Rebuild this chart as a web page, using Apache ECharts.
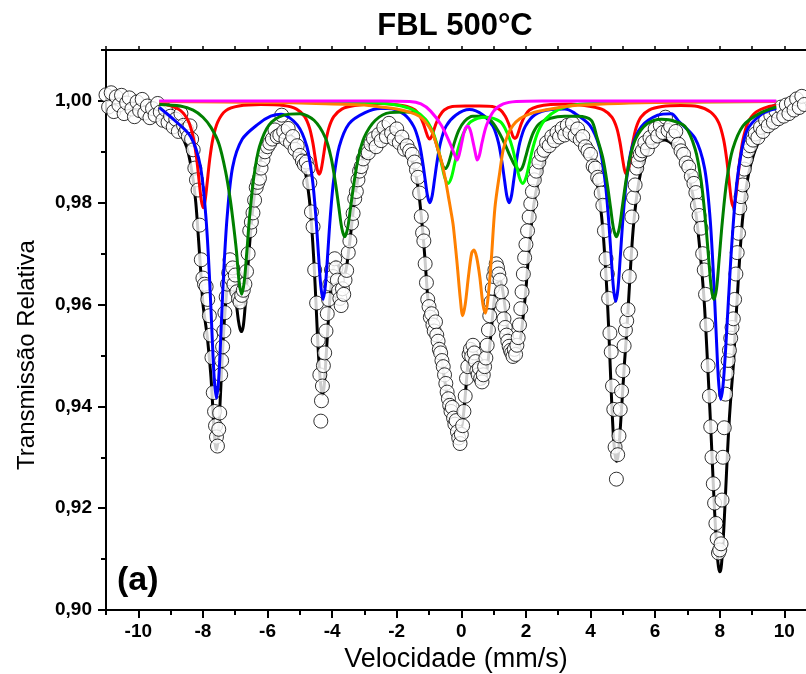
<!DOCTYPE html>
<html>
<head>
<meta charset="utf-8">
<script src="https://cdn.jsdelivr.net/npm/echarts@6/dist/echarts.min.js"></script>
<style>html,body{margin:0;padding:0;background:#fff}#c{width:806px;height:674px}</style>
</head>
<body>
<div id="c"></div>
<script>
// ---------- tick values ----------
const xMajor = [-10,-8,-6,-4,-2,0,2,4,6,8,10];
const xMinor = [-11,-9,-7,-5,-3,-1,1,3,5,7,9];
const xTop = [-11,-10,-9,-8,-7,-6,-5,-4,-3,-2,-1,0,1,2,3,4,5,6,7,8,9,10];
const yMajor = [0.90,0.92,0.94,0.96,0.98,1.00];
const yMinor = [0.91,0.93,0.95,0.97,0.99,1.01];

// ---------- measured spectrum (open circles) ----------
const observed = [
[-11.00,1.0012],[-10.92,0.9988],[-10.84,1.0016],[-10.76,0.9979],[-10.68,1.0008],[-10.60,0.9992],[-10.52,1.0011],[-10.44,0.9975],[-10.36,0.9996],[-10.28,1.0006],[-10.20,0.9984],[-10.12,0.9969],[-10.04,0.9998],[-9.96,0.9981],[-9.88,1.0003],[-9.80,0.9976],[-9.72,0.9990],[-9.64,0.9967],[-9.56,0.9985],[-9.48,0.9972],[-9.40,0.9995],[-9.32,0.9978],[-9.24,0.9962],[-9.16,0.9983],[-9.08,0.9958],[-9.00,0.9970],[-8.92,0.9949],[-8.84,0.9964],[-8.76,0.9940],[-8.68,0.9975],[-8.60,0.9952],[-8.55,0.9938],[-8.50,0.9944],[-8.45,0.9930],
[-8.40,0.9951],[-8.35,0.9925],[-8.30,0.9904],[-8.25,0.9868],[-8.20,0.9845],[-8.15,0.9825],[-8.10,0.9756],[-8.05,0.9688],[-8.00,0.9652],[-7.95,0.9640],[-7.90,0.9635],[-7.85,0.9610],[-7.80,0.9578],[-7.76,0.9540],[-7.72,0.9496],[-7.68,0.9427],[-7.64,0.9390],[-7.61,0.9362],[-7.58,0.9340],[-7.55,0.9322],[-7.51,0.9355],[-7.48,0.9387],[-7.45,0.9462],[-7.42,0.9490],[-7.39,0.9517],[-7.35,0.9548],[-7.32,0.9584],[-7.28,0.9615],[-7.24,0.9640],[-7.20,0.9662],[-7.16,0.9688],[-7.12,0.9650],[-7.08,0.9672],[-7.04,0.9640],[-7.00,0.9658],[-6.95,0.9625],[-6.90,0.9612],[-6.85,0.9605],[-6.80,0.9618],[-6.75,0.9628],[-6.70,0.9640],[-6.65,0.9665],
[-6.60,0.9700],[-6.55,0.9745],[-6.50,0.9762],[-6.45,0.9780],[-6.40,0.9805],[-6.35,0.9830],[-6.30,0.9840],[-6.25,0.9848],[-6.20,0.9868],[-6.14,0.9885],[-6.08,0.9900],[-6.00,0.9910],[-5.93,0.9917],[-5.85,0.9925],[-5.77,0.9943],[-5.70,0.9930],[-5.62,0.9933],[-5.56,0.9972],[-5.50,0.9940],[-5.43,0.9925],[-5.36,0.9946],[-5.29,0.9918],[-5.22,0.9930],[-5.15,0.9905],[-5.08,0.9912],[-5.00,0.9893],
[-4.92,0.9882],[-4.86,0.9875],[-4.80,0.9880],[-4.74,0.9868],[-4.69,0.9839],[-4.64,0.9782],[-4.59,0.9753],[-4.54,0.9668],[-4.48,0.9603],[-4.43,0.9530],[-4.38,0.9462],[-4.35,0.9371],[-4.33,0.9411],[-4.30,0.9440],[-4.27,0.9480],[-4.23,0.9505],[-4.19,0.9548],[-4.15,0.9582],[-4.11,0.9610],[-4.07,0.9640],[-4.02,0.9668],[-3.97,0.9655],[-3.92,0.9690],[-3.88,0.9672],[-3.84,0.9648],[-3.80,0.9627],[-3.76,0.9612],[-3.72,0.9598],[-3.68,0.9631],[-3.64,0.9620],[-3.60,0.9648],[-3.55,0.9667],[-3.50,0.9702],[-3.45,0.9725],[-3.40,0.9760],[-3.35,0.9779],[-3.30,0.9808],[-3.25,0.9822],[-3.20,0.9845],[-3.15,0.9862],[-3.10,0.9871],[-3.04,0.9886],[-2.96,0.9901],[-2.88,0.9898],[-2.80,0.9915],[-2.72,0.9926],[-2.64,0.9910],[-2.56,0.9934],[-2.48,0.9922],[-2.40,0.9948],[-2.32,0.9930],[-2.24,0.9956],[-2.16,0.9937],[-2.08,0.9925],[-2.00,0.9945],[-1.92,0.9918],[-1.84,0.9929],[-1.76,0.9905],[-1.68,0.9912],
[-1.60,0.9902],[-1.52,0.9895],[-1.45,0.9880],[-1.39,0.9865],[-1.34,0.9850],[-1.29,0.9819],[-1.24,0.9773],[-1.20,0.9741],[-1.16,0.9725],[-1.12,0.9680],[-1.08,0.9643],[-1.04,0.9610],[-1.00,0.9596],[-0.96,0.9575],[-0.92,0.9582],[-0.88,0.9560],[-0.84,0.9548],[-0.80,0.9566],[-0.76,0.9540],[-0.72,0.9528],[-0.68,0.9512],[-0.64,0.9505],[-0.60,0.9490],[-0.56,0.9478],[-0.52,0.9462],[-0.48,0.9445],[-0.44,0.9428],[-0.40,0.9415],[-0.36,0.9402],[-0.32,0.9390],[-0.28,0.9398],[-0.24,0.9377],[-0.20,0.9365],[-0.16,0.9372],[-0.12,0.9350],[-0.08,0.9338],[-0.04,0.9327],[0.00,0.9345],[0.04,0.9362],[0.08,0.9390],[0.12,0.9420],[0.16,0.9455],[0.20,0.9478],[0.24,0.9502],[0.28,0.9512],[0.32,0.9498],[0.36,0.9520],[0.40,0.9505],[0.44,0.9488],[0.48,0.9470],[0.52,0.9462],[0.56,0.9475],[0.60,0.9455],[0.64,0.9448],[0.68,0.9462],[0.72,0.9478],[0.76,0.9495],[0.80,0.9520],[0.84,0.9550],[0.88,0.9578],[0.92,0.9605],[0.96,0.9632],[1.00,0.9655],[1.04,0.9668],[1.08,0.9680],[1.12,0.9672],[1.16,0.9660],[1.20,0.9648],[1.24,0.9625],[1.28,0.9598],[1.32,0.9572],[1.36,0.9555],[1.40,0.9540],[1.44,0.9528],[1.48,0.9518],[1.52,0.9510],[1.56,0.9505],[1.60,0.9498],[1.64,0.9512],[1.68,0.9502],[1.72,0.9520],[1.76,0.9535],[1.80,0.9560],[1.84,0.9592],[1.88,0.9625],[1.92,0.9660],[1.96,0.9692],[2.00,0.9718],[2.05,0.9745],[2.10,0.9772],[2.15,0.9798],[2.20,0.9822],[2.26,0.9845],[2.32,0.9862],[2.40,0.9880],[2.48,0.9895],[2.56,0.9903],[2.64,0.9918],[2.72,0.9912],[2.80,0.9930],[2.88,0.9922],[2.96,0.9938],[3.04,0.9929],[3.12,0.9946],[3.20,0.9933],[3.28,0.9952],[3.36,0.9938],[3.44,0.9956],[3.52,0.9932],[3.60,0.9945],[3.68,0.9924],[3.76,0.9930],[3.84,0.9910],
[3.92,0.9902],[4.00,0.9895],[4.08,0.9872],[4.15,0.9868],[4.22,0.9850],[4.28,0.9845],[4.33,0.9819],[4.38,0.9795],[4.43,0.9745],[4.48,0.9690],[4.52,0.9660],[4.56,0.9612],[4.60,0.9544],[4.64,0.9507],[4.68,0.9440],[4.72,0.9394],[4.76,0.9320],[4.80,0.9257],[4.84,0.9305],[4.88,0.9342],[4.92,0.9394],[4.96,0.9430],[5.00,0.9470],[5.04,0.9519],[5.08,0.9550],[5.12,0.9568],[5.16,0.9590],[5.20,0.9655],[5.24,0.9700],[5.28,0.9772],[5.33,0.9810],[5.38,0.9835],[5.43,0.9868],[5.48,0.9882],[5.54,0.9895],[5.60,0.9902],[5.68,0.9918],[5.76,0.9905],[5.84,0.9928],[5.92,0.9920],[6.00,0.9945],[6.08,0.9931],[6.16,0.9952],[6.24,0.9938],[6.32,0.9968],[6.40,0.9942],[6.48,0.9950],[6.56,0.9931],[6.64,0.9940],[6.72,0.9915],[6.80,0.9902],[6.88,0.9895],[6.96,0.9878],
[7.04,0.9870],[7.12,0.9852],[7.20,0.9838],[7.26,0.9820],[7.31,0.9795],[7.36,0.9775],[7.42,0.9750],[7.47,0.9700],[7.52,0.9668],[7.56,0.9620],[7.60,0.9560],[7.64,0.9480],[7.68,0.9420],[7.72,0.9360],[7.76,0.9300],[7.80,0.9248],[7.84,0.9210],[7.88,0.9170],[7.92,0.9140],[7.96,0.9112],[8.00,0.9118],[8.04,0.9130],[8.07,0.9216],[8.10,0.9300],[8.14,0.9358],[8.18,0.9424],[8.22,0.9465],[8.26,0.9490],[8.30,0.9510],[8.34,0.9534],[8.38,0.9555],[8.42,0.9572],[8.46,0.9610],[8.50,0.9660],[8.54,0.9702],[8.58,0.9740],[8.62,0.9790],[8.66,0.9812],[8.71,0.9835],[8.76,0.9866],[8.82,0.9885],[8.88,0.9902],[8.95,0.9912],[9.03,0.9923],[9.10,0.9935],[9.18,0.9928],[9.26,0.9948],[9.34,0.9940],[9.42,0.9962],[9.50,0.9951],[9.58,0.9972],[9.66,0.9958],[9.74,0.9980],[9.82,0.9965],[9.90,0.9988],[9.98,0.9970],[10.06,0.9992],[10.14,0.9975],[10.22,0.9996],[10.30,0.9982],[10.38,1.0004],[10.46,0.9987],[10.54,1.0009],[10.62,0.9993],[10.70,1.0006]
];

// ---------- total fit (black) ----------
const fitTotal = [
[-9.35,0.9970],[-9.2,0.9964],[-9.0,0.9955],[-8.85,0.9947],[-8.7,0.9937],[-8.5,0.9909],[-8.4,0.9882],[-8.3,0.9844],[-8.22,0.9800],[-8.15,0.9741],[-8.07,0.9668],[-8.0,0.9602],[-7.94,0.9572],[-7.88,0.9545],[-7.82,0.9508],[-7.75,0.9457],[-7.7,0.9405],[-7.65,0.9347],[-7.61,0.9322],[-7.58,0.9315],[-7.54,0.9330],[-7.5,0.9368],[-7.45,0.9432],[-7.4,0.9498],[-7.35,0.9555],[-7.3,0.9600],[-7.25,0.9632],[-7.2,0.9652],[-7.15,0.9660],[-7.1,0.9656],[-7.05,0.9642],[-7.0,0.9620],[-6.95,0.9594],[-6.9,0.9568],[-6.85,0.9552],[-6.8,0.9547],[-6.75,0.9558],[-6.7,0.9590],[-6.65,0.9634],[-6.6,0.9680],[-6.5,0.9760],[-6.42,0.9808],[-6.35,0.9840],[-6.2,0.9886],[-6.0,0.9918],[-5.7,0.9936],[-5.4,0.9937],[-5.2,0.9926],[-5.05,0.9910],[-4.95,0.9895],[-4.85,0.9868],[-4.75,0.9830],[-4.67,0.9785],[-4.6,0.9722],[-4.55,0.9668],[-4.5,0.9604],[-4.45,0.9535],[-4.4,0.9478],[-4.35,0.9440],[-4.3,0.9423],[-4.25,0.9438],[-4.2,0.9483],[-4.15,0.9535],[-4.1,0.9585],[-4.05,0.9625],[-4.0,0.9657],[-3.95,0.9676],[-3.9,0.9685],[-3.85,0.9684],[-3.8,0.9677],[-3.75,0.9667],[-3.7,0.9660],[-3.65,0.9657],[-3.6,0.9661],[-3.55,0.9675],[-3.5,0.9699],[-3.42,0.9742],[-3.35,0.9783],[-3.28,0.9818],[-3.2,0.9848],[-3.1,0.9875],[-3.0,0.9895],[-2.85,0.9917],[-2.7,0.9932],[-2.4,0.9943],[-2.0,0.9936],[-1.85,0.9928],[-1.7,0.9913],[-1.55,0.9888],[-1.4,0.9852],[-1.3,0.9810],[-1.2,0.9747],[-1.12,0.9685],[-1.05,0.9622],[-0.98,0.9582],[-0.9,0.9560],[-0.8,0.9543],[-0.7,0.9520],[-0.6,0.9485],[-0.5,0.9445],[-0.4,0.9413],[-0.3,0.9390],[-0.2,0.9372],[-0.1,0.9358],[-0.02,0.9355],[0.05,0.9375],[0.12,0.9420],[0.2,0.9480],[0.27,0.9512],[0.35,0.9521],[0.43,0.9505],[0.5,0.9482],[0.58,0.9458],[0.65,0.9445],[0.72,0.9447],[0.8,0.9475],[0.9,0.9531],[0.98,0.9585],[1.05,0.9625],[1.12,0.9645],[1.2,0.9648],[1.28,0.9628],[1.35,0.9596],[1.42,0.9558],[1.5,0.9524],[1.6,0.9504],[1.7,0.9506],[1.78,0.9518],[1.85,0.9540],[1.92,0.9580],[2.0,0.9630],[2.06,0.9680],[2.12,0.9724],[2.2,0.9775],[2.3,0.9818],[2.4,0.9846],[2.55,0.9880],[2.7,0.9905],[2.85,0.9924],[3.0,0.9936],[3.25,0.9940],[3.5,0.9936],[3.8,0.9919],[3.95,0.9900],[4.1,0.9870],[4.2,0.9840],[4.3,0.9797],[4.38,0.9748],[4.45,0.9686],[4.52,0.9610],[4.58,0.9525],[4.64,0.9430],[4.7,0.9350],[4.75,0.9310],[4.8,0.9292],[4.85,0.9302],[4.9,0.9338],[4.95,0.9385],[5.0,0.9435],[5.05,0.9485],[5.11,0.9537],[5.18,0.9610],[5.25,0.9685],[5.32,0.9748],[5.4,0.9798],[5.5,0.9842],[5.6,0.9872],[5.75,0.9898],[5.9,0.9914],[6.1,0.9921],[6.3,0.9923],[6.5,0.9917],[6.7,0.9905],[6.85,0.9890],[7.0,0.9864],[7.12,0.9830],[7.25,0.9785],[7.35,0.9730],[7.45,0.9662],[7.53,0.9595],[7.6,0.9513],[7.66,0.9438],[7.72,0.9360],[7.77,0.9290],[7.82,0.9220],[7.87,0.9160],[7.92,0.9110],[7.96,0.9085],[8.0,0.9075],[8.04,0.9082],[8.08,0.9110],[8.13,0.9165],[8.18,0.9230],[8.24,0.9310],[8.3,0.9379],[8.36,0.9432],[8.42,0.9480],[8.48,0.9548],[8.55,0.9622],[8.62,0.9695],[8.7,0.9764],[8.8,0.9820],[8.9,0.9859],[9.05,0.9895],[9.2,0.9919],[9.35,0.9935],[9.5,0.9947],[9.75,0.9959]
];

// ---------- sub-spectra ----------
const sextetRed = [
[-9.35,0.9995],[-9.09,0.9992],[-8.69,0.9981],[-8.44,0.9959],[-8.29,0.9926],[-8.19,0.9885],[-8.11,0.9838],[-8.05,0.9805],[-7.99,0.9790],[-7.93,0.9805],[-7.87,0.9838],[-7.79,0.9885],[-7.69,0.9926],[-7.54,0.9959],[-7.29,0.9981],[-6.89,0.9990],[-6.2,0.9993],[-5.5,0.9991],[-5.1,0.9984],[-4.85,0.9969],[-4.7,0.9947],[-4.6,0.9919],[-4.52,0.9887],[-4.46,0.9865],[-4.4,0.9856],[-4.34,0.9865],[-4.28,0.9887],[-4.2,0.9919],[-4.1,0.9947],[-3.95,0.9969],[-3.7,0.9984],[-3.3,0.9991],[-2.5,0.9995],[-2.08,0.9993],[-1.68,0.9989],[-1.43,0.9982],[-1.28,0.9970],[-1.18,0.9956],[-1.1,0.9941],[-1.04,0.9930],[-0.98,0.9925],[-0.92,0.9930],[-0.86,0.9941],[-0.78,0.9956],[-0.68,0.9970],[-0.53,0.9982],[-0.28,0.9989],[0.12,0.9990],[0.56,0.9990],[0.96,0.9989],[1.21,0.9982],[1.36,0.9970],[1.46,0.9956],[1.54,0.9941],[1.6,0.9930],[1.66,0.9926],[1.72,0.9930],[1.78,0.9941],[1.86,0.9956],[1.96,0.9970],[2.11,0.9982],[2.36,0.9989],[2.76,0.9993],[3.4,0.9994],[4.01,0.9989],[4.41,0.9982],[4.66,0.9968],[4.81,0.9947],[4.91,0.9919],[4.99,0.9887],[5.05,0.9865],[5.11,0.9856],[5.17,0.9865],[5.23,0.9887],[5.31,0.9919],[5.41,0.9947],[5.56,0.9968],[5.81,0.9982],[6.21,0.9989],[6.8,0.9991],[7.32,0.9989],[7.72,0.9978],[7.97,0.9957],[8.12,0.9924],[8.22,0.9883],[8.3,0.9837],[8.36,0.9805],[8.42,0.9792],[8.48,0.9805],[8.54,0.9837],[8.62,0.9883],[8.72,0.9924],[8.87,0.9957],[9.12,0.9978],[9.52,0.9989],[9.75,0.9991]
];
const sextetBlue = [
[-9.35,0.9987],[-8.88,0.9962],[-8.38,0.9930],[-8.08,0.9872],[-7.91,0.9774],[-7.8,0.9659],[-7.72,0.9546],[-7.65,0.9455],[-7.58,0.9416],[-7.51,0.9455],[-7.44,0.9546],[-7.36,0.9659],[-7.25,0.9772],[-7.08,0.9870],[-6.78,0.9925],[-6.28,0.9955],[-5.9,0.9970],[-5.58,0.9974],[-5.08,0.9953],[-4.78,0.9910],[-4.61,0.9846],[-4.5,0.9770],[-4.42,0.9696],[-4.35,0.9636],[-4.28,0.9610],[-4.21,0.9636],[-4.14,0.9696],[-4.06,0.9770],[-3.95,0.9846],[-3.78,0.9910],[-3.48,0.9955],[-2.98,0.9977],[-2.5,0.9985],[-2.275,0.9985],[-1.775,0.9974],[-1.475,0.9950],[-1.305,0.9918],[-1.195,0.9879],[-1.115,0.9843],[-1.045,0.9813],[-0.975,0.9800],[-0.905,0.9813],[-0.835,0.9843],[-0.755,0.9879],[-0.645,0.9918],[-0.475,0.9950],[-0.175,0.9972],[0.25,0.9983],[0.68,0.9972],[0.98,0.9950],[1.15,0.9918],[1.26,0.9879],[1.34,0.9843],[1.41,0.9813],[1.48,0.9800],[1.55,0.9813],[1.62,0.9843],[1.7,0.9879],[1.81,0.9918],[1.98,0.9950],[2.28,0.9973],[2.78,0.9983],[3.2,0.9984],[3.48,0.9977],[3.98,0.9952],[4.28,0.9908],[4.45,0.9843],[4.56,0.9766],[4.64,0.9693],[4.71,0.9632],[4.78,0.9606],[4.85,0.9632],[4.92,0.9693],[5.0,0.9766],[5.11,0.9843],[5.28,0.9908],[5.58,0.9950],[6.08,0.9972],[6.5,0.9975],[6.73,0.9960],[7.23,0.9927],[7.53,0.9868],[7.7,0.9770],[7.81,0.9652],[7.89,0.9542],[7.96,0.9452],[8.03,0.9414],[8.1,0.9440],[8.18,0.9510],[8.27,0.9610],[8.38,0.9725],[8.55,0.9850],[8.83,0.9940],[9.3,0.9974],[9.75,0.9985]
];
const sextetGreen = [
[-9.35,0.9993],[-8.7,0.9990],[-8.3,0.9982],[-8.0,0.9968],[-7.75,0.9948],[-7.5,0.9915],[-7.3,0.9862],[-7.15,0.9805],[-7.05,0.9755],[-6.96,0.9704],[-6.88,0.9645],[-6.8,0.9620],[-6.72,0.9645],[-6.64,0.9704],[-6.55,0.9776],[-6.42,0.9852],[-6.25,0.9910],[-5.95,0.9953],[-5.5,0.9972],[-5.0,0.9975],[-4.56,0.9962],[-4.21,0.9928],[-4.03,0.9888],[-3.89,0.9836],[-3.79,0.9790],[-3.7,0.9750],[-3.61,0.9733],[-3.52,0.9750],[-3.43,0.9790],[-3.33,0.9836],[-3.19,0.9888],[-3.01,0.9928],[-2.66,0.9962],[-2.21,0.9977],[-1.7,0.9978],[-1.45,0.9977],[-1.1,0.9960],[-0.92,0.9942],[-0.78,0.9917],[-0.68,0.9894],[-0.59,0.9875],[-0.5,0.9867],[-0.41,0.9875],[-0.32,0.9894],[-0.22,0.9917],[-0.08,0.9942],[0.1,0.9960],[0.35,0.9970],[0.6,0.9970],[0.9,0.9962],[1.15,0.9940],[1.35,0.9915],[1.5,0.9893],[1.63,0.9876],[1.72,0.9868],[1.81,0.9864],[1.9,0.9871],[1.99,0.9890],[2.09,0.9913],[2.23,0.9938],[2.41,0.9955],[2.76,0.9966],[3.2,0.9970],[3.6,0.9970],[4.02,0.9962],[4.2,0.9928],[4.38,0.9888],[4.52,0.9836],[4.62,0.9790],[4.71,0.9750],[4.8,0.9733],[4.89,0.9750],[4.98,0.9790],[5.08,0.9836],[5.22,0.9888],[5.4,0.9926],[5.75,0.9955],[6.2,0.9964],[6.42,0.9963],[6.92,0.9950],[7.24,0.9905],[7.42,0.9845],[7.56,0.9763],[7.66,0.9688],[7.74,0.9631],[7.82,0.9610],[7.9,0.9631],[7.98,0.9688],[8.08,0.9763],[8.22,0.9845],[8.4,0.9905],[8.72,0.9951],[9.22,0.9975],[9.75,0.9988]
];
const doubletLime = [
[-9.35,0.9999],[-4.0,0.9998],[-2.6,0.9996],[-2.01,0.9992],[-1.51,0.9983],[-1.11,0.9964],[-0.89,0.9940],[-0.73,0.9909],[-0.61,0.9876],[-0.51,0.9849],[-0.41,0.9838],[-0.31,0.9849],[-0.21,0.9876],[-0.09,0.9908],[0.07,0.9937],[0.29,0.9959],[0.75,0.9968],[1.21,0.9959],[1.42,0.9937],[1.58,0.9908],[1.7,0.9876],[1.8,0.9849],[1.9,0.9838],[2.0,0.9849],[2.1,0.9876],[2.22,0.9909],[2.38,0.9940],[2.6,0.9964],[3.0,0.9983],[3.5,0.9992],[4.5,0.9996],[6.0,0.9998],[9.75,0.9999]
];
const doubletMagenta = [
[-9.35,1.0000],[-2.5,1.0000],[-1.6,0.9999],[-1.25,0.9994],[-0.95,0.9980],[-0.62,0.9952],[-0.36,0.9918],[-0.2,0.9893],[-0.13,0.9884],[-0.06,0.9896],[0.02,0.9920],[0.1,0.9942],[0.19,0.9950],[0.28,0.9942],[0.36,0.9920],[0.44,0.9896],[0.49,0.9884],[0.56,0.9893],[0.64,0.9918],[0.78,0.9952],[1.0,0.9980],[1.3,0.9994],[1.7,0.9999],[2.5,1.0000],[9.75,1.0000]
];
const doubletOrange = [
[-9.35,0.9999],[-6.0,0.9997],[-4.5,0.9995],[-3.0,0.9992],[-2.5,0.9988],[-2.0,0.9984],[-1.6,0.9978],[-1.3,0.9970],[-1.1,0.9958],[-0.9,0.9938],[-0.75,0.9910],[-0.6,0.9878],[-0.5,0.9848],[-0.4,0.9812],[-0.32,0.9783],[-0.25,0.9755],[-0.13,0.9680],[-0.03,0.9610],[0.04,0.9578],[0.12,0.9600],[0.22,0.9655],[0.32,0.9701],[0.39,0.9707],[0.47,0.9694],[0.57,0.9655],[0.67,0.9600],[0.75,0.9583],[0.83,0.9615],[0.93,0.9690],[1.04,0.9790],[1.19,0.9860],[1.3,0.9905],[1.45,0.9935],[1.6,0.9952],[1.81,0.9965],[2.1,0.9974],[2.43,0.9980],[3.5,0.9991],[6.0,0.9997],[9.75,0.9999]
];

const FONT = "'Liberation Sans',Arial,sans-serif";
const X_MIN = -11, X_MAX = 10.67, Y_MIN = 0.90, Y_MAX = 1.01;

function lineSeries(name, data, color, width, z) {
  return { name, type: 'line', data, showSymbol: false, smooth: 0.3,
    lineStyle: { color, width }, itemStyle: { color }, z, silent: true, clip: true };
}

const chart = echarts.init(document.getElementById('c'), null, { renderer: 'canvas' });
const axisBase = { type: 'value', min: X_MIN, max: X_MAX, splitLine: { show: false } };
const yBase = { type: 'value', min: Y_MIN, max: Y_MAX, splitLine: { show: false } };
chart.setOption({
  animation: false,
  backgroundColor: '#fff',
  grid: { left: 106, right: 0, top: 50, bottom: 64, containLabel: false, outerBoundsMode: 'none' },
  graphic: [
    { type: 'text', x: 455, y: 26, style: { text: 'FBL 500°C', fill: '#000', font: 'bold 31px ' + FONT, align: 'center', verticalAlign: 'middle', textAlign: 'center', textVerticalAlign: 'middle' } },
    { type: 'text', x: 27, y: 355, rotation: Math.PI / 2, style: { text: 'Transmissão Relativa', fill: '#000', font: '24px ' + FONT, align: 'center', verticalAlign: 'middle', textAlign: 'center', textVerticalAlign: 'middle' } },
    { type: 'text', x: 117, y: 581, style: { text: '(a)', fill: '#000', font: 'bold 34px ' + FONT, align: 'left', verticalAlign: 'middle', textAlign: 'left', textVerticalAlign: 'middle' } }
  ],
  xAxis: [
    Object.assign({}, axisBase, { position: 'bottom',
      axisLine: { show: true, onZero: false, lineStyle: { color: '#000', width: 2 } },
      axisTick: { show: true, customValues: xMajor, length: 8, lineStyle: { color: '#000', width: 2 } },
      axisLabel: { customValues: xMajor, color: '#000', fontWeight: 'bold', fontSize: 19, fontFamily: FONT, margin: 12 },
      name: 'Velocidade (mm/s)', nameLocation: 'middle', nameGap: 35,
      nameTextStyle: { color: '#000', fontSize: 27, fontFamily: FONT } }),
    Object.assign({}, axisBase, { position: 'bottom',
      axisLine: { show: false, onZero: false },
      axisTick: { show: true, customValues: xMinor, length: 5, lineStyle: { color: '#000', width: 2 } },
      axisLabel: { show: false } }),
    Object.assign({}, axisBase, { position: 'top',
      axisLine: { show: true, onZero: false, lineStyle: { color: '#000', width: 2 } },
      axisTick: { show: true, customValues: xTop, length: 4, lineStyle: { color: '#000', width: 1.5 } },
      axisLabel: { show: false } })
  ],
  yAxis: [
    Object.assign({}, yBase, { position: 'left',
      axisLine: { show: true, onZero: false, lineStyle: { color: '#000', width: 2 } },
      axisTick: { show: true, customValues: yMajor, length: 8, lineStyle: { color: '#000', width: 2 } },
      axisLabel: { customValues: yMajor, color: '#000', fontWeight: 'bold', fontSize: 19, fontFamily: FONT, margin: 14,
        formatter: v => v.toFixed(2).replace('.', ',') } }),
    Object.assign({}, yBase, { position: 'left',
      axisLine: { show: false, onZero: false },
      axisTick: { show: true, customValues: yMinor, length: 5, lineStyle: { color: '#000', width: 2 } },
      axisLabel: { show: false } })
  ],
  series: [
    lineSeries('Ajuste total', fitTotal, '#000000', 3, 2),
    { name: 'Dados', type: 'scatter', data: observed, symbol: 'circle', symbolSize: 14,
      itemStyle: { color: '#ffffff', borderColor: '#000000', borderWidth: 1 }, z: 3, silent: true },
    lineSeries('Sexteto 1', sextetRed, '#ff0000', 3, 4),
    lineSeries('Sexteto 2', sextetBlue, '#0000ff', 3, 4),
    lineSeries('Sexteto 3', sextetGreen, '#008000', 3, 4),
    lineSeries('Dubleto 1', doubletLime, '#00ff00', 3, 4),
    lineSeries('Dubleto 2', doubletOrange, '#ff8000', 3, 4),
    lineSeries('Dubleto 3', doubletMagenta, '#ff00ff', 3, 5)
  ]
});
</script>
</body>
</html>
